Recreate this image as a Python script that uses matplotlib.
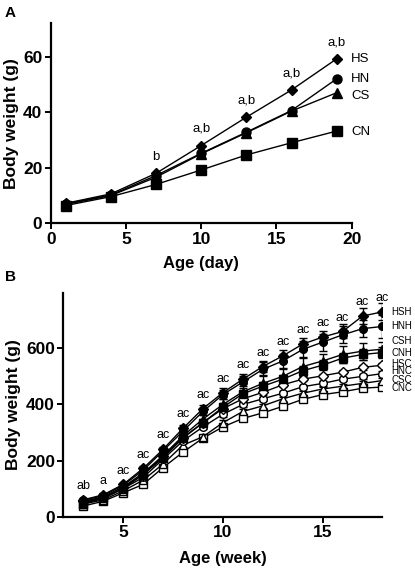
import numpy as np
import matplotlib
matplotlib.use("Agg")
import matplotlib.pyplot as plt

plt.rcParams["font.family"] = ["Liberation Sans", "DejaVu Sans"]

# panel A: body weight by day
days = [1, 4, 7, 10, 13, 16, 19]
a_hs = [7.2, 10.6, 18.0, 28.0, 38.2, 48.0, 59.2]
a_hn = [7.0, 10.2, 17.2, 25.2, 32.8, 40.6, 52.0]
a_cs = [6.8, 10.0, 16.6, 25.0, 32.6, 40.4, 47.0]
a_cn = [6.4, 9.6, 14.0, 19.2, 24.6, 29.0, 33.2]
a_names = ["HS", "HN", "CS", "CN"]
a_label_y = [59, 52, 46, 33]
a_sig = ["", "", "b", "a,b", "a,b", "a,b", "a,b"]

# panel B: body weight by week
weeks = list(range(3, 19))
hsh = [60, 78, 115, 172, 240, 315, 385, 442, 490, 535, 573, 615, 640, 660, 715, 730]
hnh = [58, 75, 112, 165, 235, 305, 375, 435, 480, 525, 555, 596, 622, 648, 670, 678]
csh = [50, 70, 106, 155, 218, 288, 348, 400, 445, 475, 500, 535, 555, 578, 590, 597]
cnh = [45, 66, 100, 150, 210, 280, 335, 390, 438, 465, 490, 520, 540, 565, 578, 585]
hsc = [55, 70, 105, 150, 215, 282, 335, 385, 420, 443, 470, 490, 502, 515, 532, 540]
hnc = [50, 65, 100, 140, 205, 270, 320, 365, 400, 420, 440, 463, 475, 490, 500, 510]
csc = [45, 60, 92, 130, 188, 255, 285, 335, 375, 395, 420, 440, 455, 465, 475, 485]
cnc = [38, 55, 85, 115, 175, 230, 280, 320, 350, 370, 393, 418, 435, 445, 458, 462]
err_hsh = [5, 5, 6, 8, 10, 12, 12, 15, 18, 20, 20, 20, 22, 25, 28, 30]
err_hnh = [5, 5, 6, 8, 10, 12, 14, 15, 20, 25, 25, 30, 30, 30, 30, 40]
err_csh = [5, 5, 6, 8, 10, 12, 14, 18, 22, 30, 25, 35, 25, 30, 30, 25]
err_cnh = [4, 4, 5, 6, 8, 10, 12, 14, 15, 15, 15, 18, 18, 18, 18, 18]
err_c = [3, 3, 4, 5, 6, 6, 7, 8, 8, 8, 8, 8, 8, 8, 8, 8]
b_names = ["HSH", "HNH", "CSH", "CNH", "HSC", "HNC", "CSC", "CNC"]
b_label_y = [730, 681, 626, 585, 545, 519, 488, 458]
b_sig = ["ab", "a"] + ["ac"] * 14

fig = plt.figure(figsize=(4.15, 5.72), dpi=100)

# ---- panel A
ax = fig.add_axes([0.1222, 0.6096, 0.7253, 0.3497])
for vals, m, ms in [(a_cn, "s", 6.5), (a_cs, "^", 6.5), (a_hn, "o", 6.5), (a_hs, "D", 5.5)]:
    ax.plot(days, vals, color="black", lw=1, marker=m, ms=ms, mfc="black", mec="black")
for name, y in zip(a_names, a_label_y):
    ax.text(19.95, y, name, fontsize=9.5, va="center", ha="left")
for x, y, s in zip(days, a_hs, a_sig):
    if s:
        ax.annotate(s, (x, y), xytext=(0, 12), textcoords="offset points",
                    ha="center", va="center", fontsize=9.5)
ax.set_xlim(0, 20)
ax.set_ylim(0, 72)
ax.set_xticks([0, 5, 10, 15, 20])
ax.set_yticks([0, 20, 40, 60])
ax.set_xlabel("Age (day)", fontsize=12, fontweight="bold")
ax.set_ylabel("Body weight (g)", fontsize=12.5, fontweight="bold")
ax.xaxis.set_label_coords(0.5, -0.163)
ax.yaxis.set_label_coords(-0.107, 0.5)

# ---- panel B
bx = fig.add_axes([0.1526, 0.0967, 0.769, 0.3905])
series = [
    (cnc, err_c, "s", "white"), (csc, err_c, "^", "white"),
    (hnc, err_c, "o", "white"), (hsc, err_c, "D", "white"),
    (cnh, err_cnh, "s", "black"), (csh, err_csh, "^", "black"),
    (hnh, err_hnh, "o", "black"), (hsh, err_hsh, "D", "black"),
]
for vals, err, m, fc in series:
    bx.errorbar(weeks, vals, yerr=err, color="black", lw=1, elinewidth=1,
                capsize=3, capthick=1, marker=m, ms=5.5 if m != "D" else 5,
                mfc=fc, mec="black")
for name, y in zip(b_names, b_label_y):
    bx.text(18.45, y, name, fontsize=7, va="center", ha="left", clip_on=False)
for x, y, s in zip(weeks, hsh, b_sig):
    bx.annotate(s, (x, y), xytext=(0, 10), textcoords="offset points",
                ha="center", va="center", fontsize=9)
bx.set_xlim(2, 18)
bx.set_ylim(0, 796)
bx.set_xticks([5, 10, 15])
bx.set_yticks([0, 200, 400, 600])
bx.set_xlabel("Age (week)", fontsize=12, fontweight="bold")
bx.set_ylabel("Body weight (g)", fontsize=12.5, fontweight="bold")
bx.xaxis.set_label_coords(0.5, -0.154)
bx.yaxis.set_label_coords(-0.134, 0.5)

for a in (ax, bx):
    for side in ("top", "right"):
        a.spines[side].set_visible(False)
    for side in ("left", "bottom"):
        a.spines[side].set_linewidth(1.6)
    a.tick_params(width=1.4, length=4, labelsize=12.5, pad=2)
    for lab in a.get_xticklabels() + a.get_yticklabels():
        lab.set_fontweight("bold")

fig.text(0.012, 0.978, "A", fontsize=11, fontweight="bold", va="center")
fig.text(0.012, 0.515, "B", fontsize=11, fontweight="bold", va="center")

fig.savefig("out.png", dpi=100)
